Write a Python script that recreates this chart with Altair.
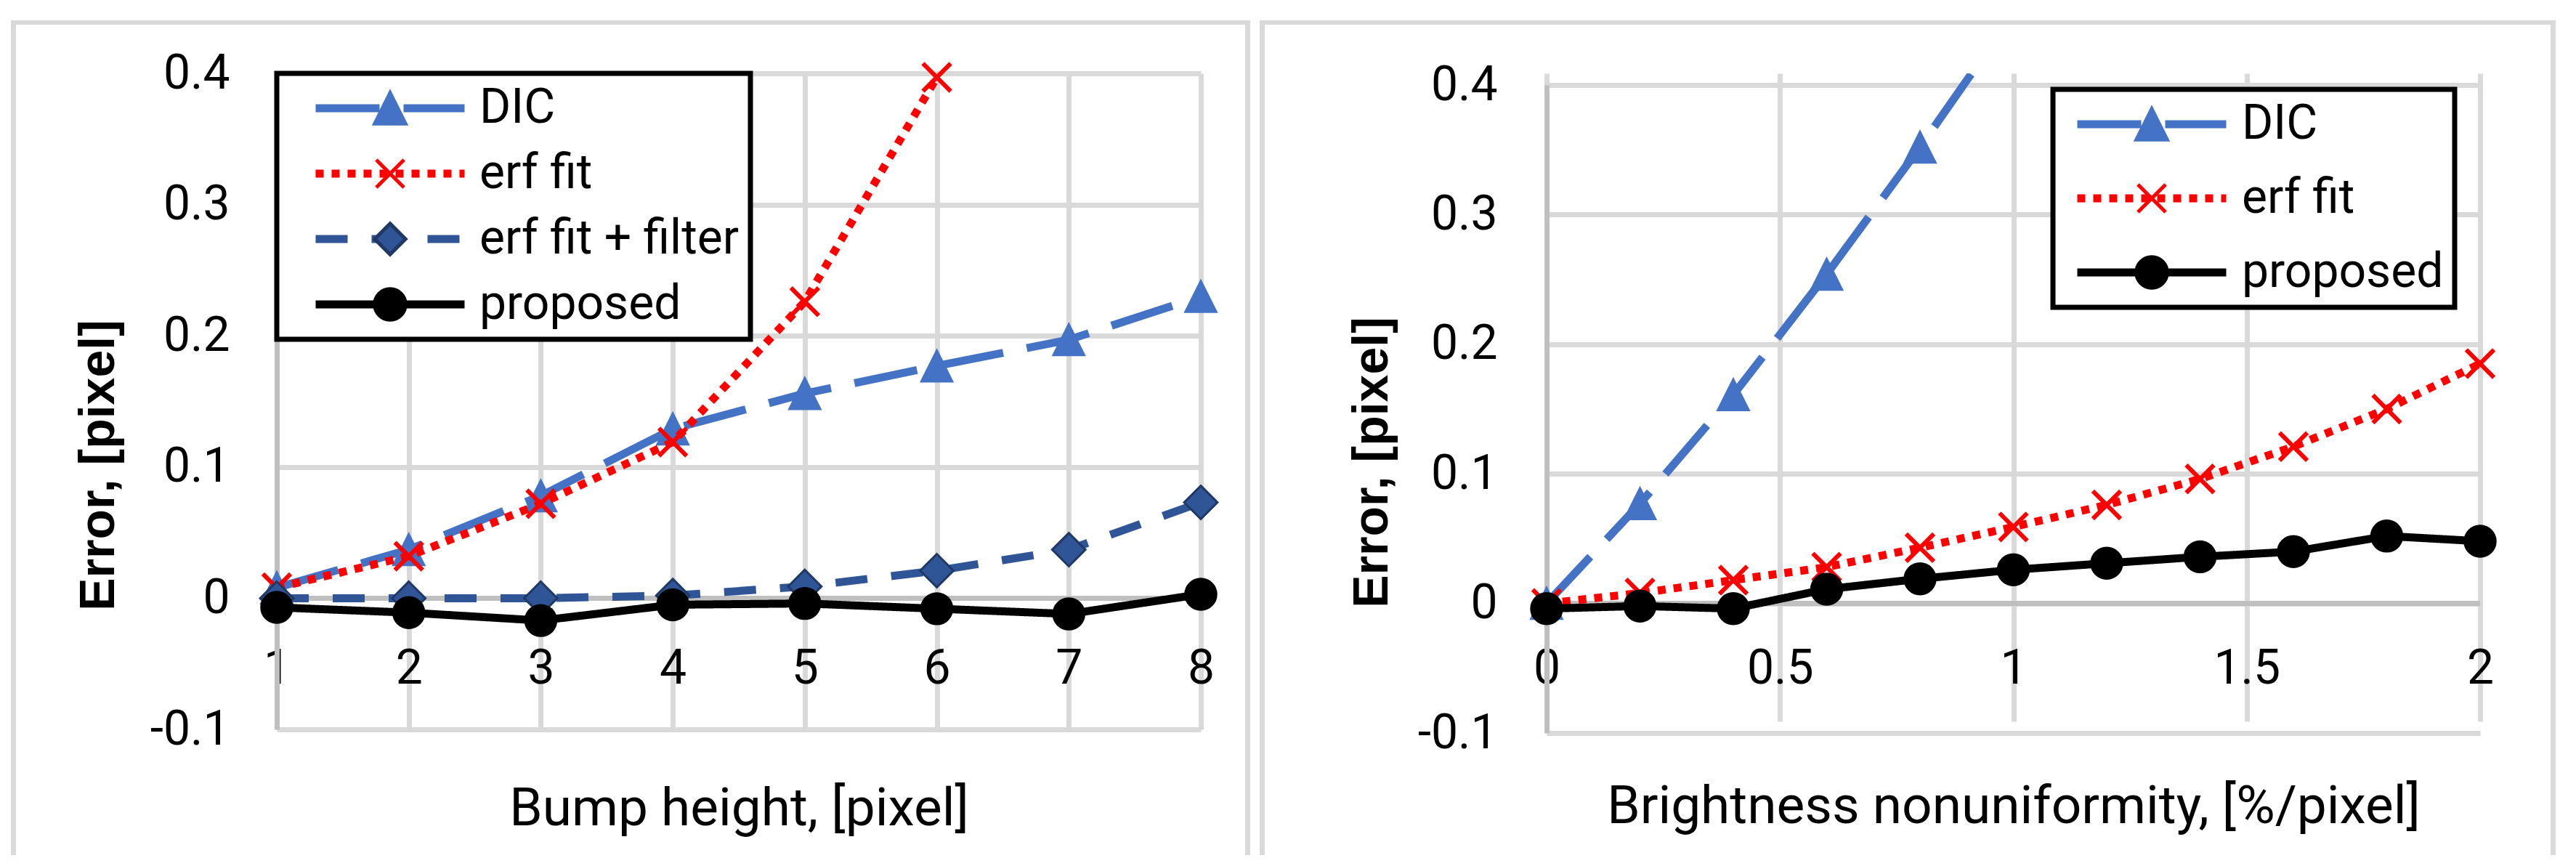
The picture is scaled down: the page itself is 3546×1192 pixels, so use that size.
import altair as alt
import pandas as pd

# ---------------- data ----------------
# Left panel: error vs bump height
bump_height = [1, 2, 3, 4, 5, 6, 7, 8]
bump_dic = [0.008, 0.037, 0.078, 0.129, 0.156, 0.177, 0.197, 0.230]
bump_erf = [0.008, 0.032, 0.072, 0.119, 0.226, 0.397]
bump_erf_filter = [0.000, 0.000, 0.000, 0.002, 0.009, 0.021, 0.037, 0.073]
bump_proposed = [-0.007, -0.011, -0.017, -0.005, -0.004, -0.008, -0.012, 0.003]

# Right panel: error vs brightness nonuniformity
brightness = [0, 0.2, 0.4, 0.6, 0.8, 1.0, 1.2, 1.4, 1.6, 1.8, 2.0]
bright_dic = [0.000, 0.077, 0.161, 0.254, 0.352, 0.455]
bright_erf = [0.000, 0.008, 0.018, 0.028, 0.043, 0.059, 0.076, 0.096, 0.121, 0.150, 0.185]
bright_proposed = [-0.004, -0.002, -0.004, 0.011, 0.019, 0.026, 0.031, 0.036, 0.040, 0.052, 0.048]

left_series = ["DIC", "erf fit", "erf fit + filter", "proposed"]
right_series = ["DIC", "erf fit", "proposed"]
y_ticks = [-0.1, 0, 0.1, 0.2, 0.3, 0.4]
left_x_ticks = [1, 2, 3, 4, 5, 6, 7, 8]
right_x_ticks = [0, 0.5, 1, 1.5, 2]
zero_level = [0]

# ---------------- styles ----------------
LABEL_FONT = "Roboto, 'Liberation Sans', sans-serif"
YTITLE_FONT = "'Liberation Sans', Arial, sans-serif"
TRIANGLE_PATH = "M0,-1L1,1L-1,1Z"
X_PATH = "M-0.9,-0.9L0.9,0.9M0.9,-0.9L-0.9,0.9"
DIAMOND_PATH = "M0,-1L1,0L0,1L-1,0Z"
LEGEND_LINE = "M-5,0L5,0"
STYLE = {
    "DIC": dict(color="#4472C4", dash=[88, 33], shape=TRIANGLE_PATH, fill="#4472C4",
                stroke="#4472C4", sw=3, size=1800),
    "erf fit": dict(color="#FF0000", dash=[11, 11], shape=X_PATH, fill="#FF0000",
                    stroke="#FF0000", sw=6, size=1800),
    "erf fit + filter": dict(color="#2F5597", dash=[44, 33], shape=DIAMOND_PATH, fill="#2F5597",
                             stroke="#1F3864", sw=3, size=2100),
    "proposed": dict(color="#000000", dash=[1, 0], shape="circle", fill="#000000",
                     stroke="#000000", sw=3, size=1800),
}
GRID = "#D9D9D9"
AXISLINE = "#BFBFBF"
LEGEND_MARKER_SIZE = 1800
MARKER_TAG = "\u200b"   # zero-width tag keeps the marker legend apart from the line legend


def panel(xs, values, names, x_ticks, x_title, W, H, y_range, frame, leg,
          ylab_pad, ytitle, xlab_pad, xtitle_y):
    rows = []
    for name, vals in zip(names, values):
        for xv, yv in zip(xs, vals):
            rows.append({"x": xv, "y": yv, "series": name, "marker": name + MARKER_TAG})
    df = pd.DataFrame(rows)
    mnames = [n + MARKER_TAG for n in names]

    xscale = alt.Scale(domain=[x_ticks[0], x_ticks[-1]], nice=False, zero=False)
    yscale = alt.Scale(domain=[y_ticks[0], y_ticks[-1]], nice=False, zero=False, range=y_range)
    span = y_range[0] - y_range[1]

    yaxis = alt.Axis(
        values=y_ticks, grid=True, gridColor=GRID, gridWidth=7,
        domain=True, domainColor=AXISLINE, domainWidth=7, ticks=False,
        labelFont=LABEL_FONT, labelFontSize=66, labelColor="#000000", labelPadding=ylab_pad,
        labelExpr="datum.value < 0 ? '-' + format(-datum.value, '.1~f') : format(datum.value, '.1~f')",
        labelOverlap=False, labelFlush=False,
        title="Error, [pixel]", titleFont=YTITLE_FONT, titleFontSize=68, titleFontWeight="bold",
        titleColor="#000000", titleAngle=270, titleX=ytitle[0], titleY=ytitle[1],
        titleBaseline="middle", titleAlign="center", titleLimit=3000,
    )
    xaxis = alt.Axis(
        values=x_ticks, grid=True, gridColor=GRID, gridWidth=7, domain=False, ticks=False,
        offset=-span / 5.0, format="~g",
        labelFont=LABEL_FONT, labelFontSize=66, labelColor="#000000", labelPadding=xlab_pad,
        labelOverlap=False, labelFlush=False,
        title=x_title, titleFont=LABEL_FONT, titleFontSize=73, titleFontWeight="normal",
        titleColor="#000000", titleX=W / 2.0, titleY=xtitle_y, titleBaseline="middle",
        titleAlign="center", titleLimit=3000,
    )
    X = alt.X("x:Q", scale=xscale, axis=xaxis)
    Y = alt.Y("y:Q", scale=yscale, axis=yaxis)

    color_scale = alt.Scale(domain=names, range=[STYLE[n]["color"] for n in names])
    dash_scale = alt.Scale(domain=names, range=[STYLE[n]["dash"] for n in names])
    fill_scale = alt.Scale(domain=mnames, range=[STYLE[n]["fill"] for n in names])
    stroke_scale = alt.Scale(domain=mnames, range=[STYLE[n]["stroke"] for n in names])
    shape_scale = alt.Scale(domain=mnames, range=[STYLE[n]["shape"] for n in names])

    line_legend = alt.Legend(
        title=None, orient="none", legendX=leg["x"], legendY=leg["y"], padding=15,
        symbolType=LEGEND_LINE, symbolSize=1681, symbolStrokeWidth=11, symbolOffset=leg["so"],
        labelOffset=leg["lo"], rowPadding=leg["rp"], labelFont=LABEL_FONT, labelFontSize=66,
        labelColor="#000000", labelLimit=2000, strokeColor="#000000", fillColor="#FFFFFF",
        zindex=1, symbolOpacity=1,
    )
    marker_legend = alt.Legend(
        title=None, orient="none", legendX=leg["x"], legendY=leg["y"], padding=15,
        symbolSize=LEGEND_MARKER_SIZE, symbolStrokeWidth=5, symbolOffset=leg["so"],
        labelOffset=leg["lo"], rowPadding=leg["rp"], labelFont=LABEL_FONT, labelFontSize=66,
        labelOpacity=0, labelLimit=2000, zindex=2, symbolOpacity=1,
    )

    fr = pd.DataFrame({"k": [0]})
    xl, xr, yt, yb = frame
    frame_layers = [
        alt.Chart(fr).mark_rect(color=GRID).encode(
            x=alt.value(xl), x2=alt.value(xl + 7), y=alt.value(yt), y2=alt.value(yb)),
        alt.Chart(fr).mark_rect(color=GRID).encode(
            x=alt.value(xl), x2=alt.value(xr), y=alt.value(yt), y2=alt.value(yt + 6)),
        alt.Chart(fr).mark_rect(color=GRID).encode(
            x=alt.value(xr - 7), x2=alt.value(xr), y=alt.value(yt), y2=alt.value(yb)),
    ]
    zero = alt.Chart(pd.DataFrame({"y": zero_level})).mark_rule(
        color=AXISLINE, strokeWidth=7).encode(y=Y)

    base = alt.Chart(df)
    series_layers = []
    for n in names:
        line = base.transform_filter(alt.datum.series == n).mark_line(
            strokeWidth=11, clip=True, strokeJoin="round"
        ).encode(
            x=X, y=Y,
            color=alt.Color("series:N", scale=color_scale, legend=line_legend),
            strokeDash=alt.StrokeDash("series:N", scale=dash_scale, legend=line_legend),
        )
        pts = base.transform_filter(
            (alt.datum.series == n) & (alt.datum.y <= y_ticks[-1])
        ).mark_point(filled=True, size=STYLE[n]["size"], strokeWidth=STYLE[n]["sw"],
                     opacity=1).encode(
            x=X, y=Y,
            fill=alt.Fill("marker:N", scale=fill_scale, legend=marker_legend),
            stroke=alt.Stroke("marker:N", scale=stroke_scale, legend=marker_legend),
            shape=alt.Shape("marker:N", scale=shape_scale, legend=marker_legend),
        )
        series_layers += [line, pts]

    return alt.layer(*frame_layers, zero, *series_layers).properties(width=W, height=H)


left = panel(
    bump_height, [bump_dic, bump_erf, bump_erf_filter, bump_proposed], left_series,
    left_x_ticks, "Bump height, [pixel]", 1272, 903, [903, 0],
    frame=(-366, 1340, -73, 1076),
    leg=dict(x=0, y=0, so=108, lo=90, rp=24),
    ylab_pad=65, ytitle=(-245, 539), xlab_pad=65, xtitle_y=290,
)
right = panel(
    brightness, [bright_dic, bright_erf, bright_proposed], right_series,
    right_x_ticks, "Brightness nonuniformity, [%/pixel]", 1285, 908, [908, 16],
    frame=(-395, 1389, -73, 1076),
    leg=dict(x=697, y=22, so=88, lo=91, rp=36),
    ylab_pad=68, ytitle=(-240, 535), xlab_pad=58, xtitle_y=280,
)

chart = alt.hconcat(left, right, spacing=11).resolve_scale(
    x="independent", y="independent", color="independent", fill="independent",
    stroke="independent", shape="independent", strokeDash="independent",
).resolve_legend(
    color="independent", fill="independent", stroke="independent",
    shape="independent", strokeDash="independent",
).properties(
    padding={"left": 6, "top": 19, "right": 0, "bottom": 0},
    background="#FFFFFF",
).configure_view(stroke="transparent").configure_legend(strokeWidth=7)

chart.save("out.html", embed_options={"renderer": "svg", "actions": False})
